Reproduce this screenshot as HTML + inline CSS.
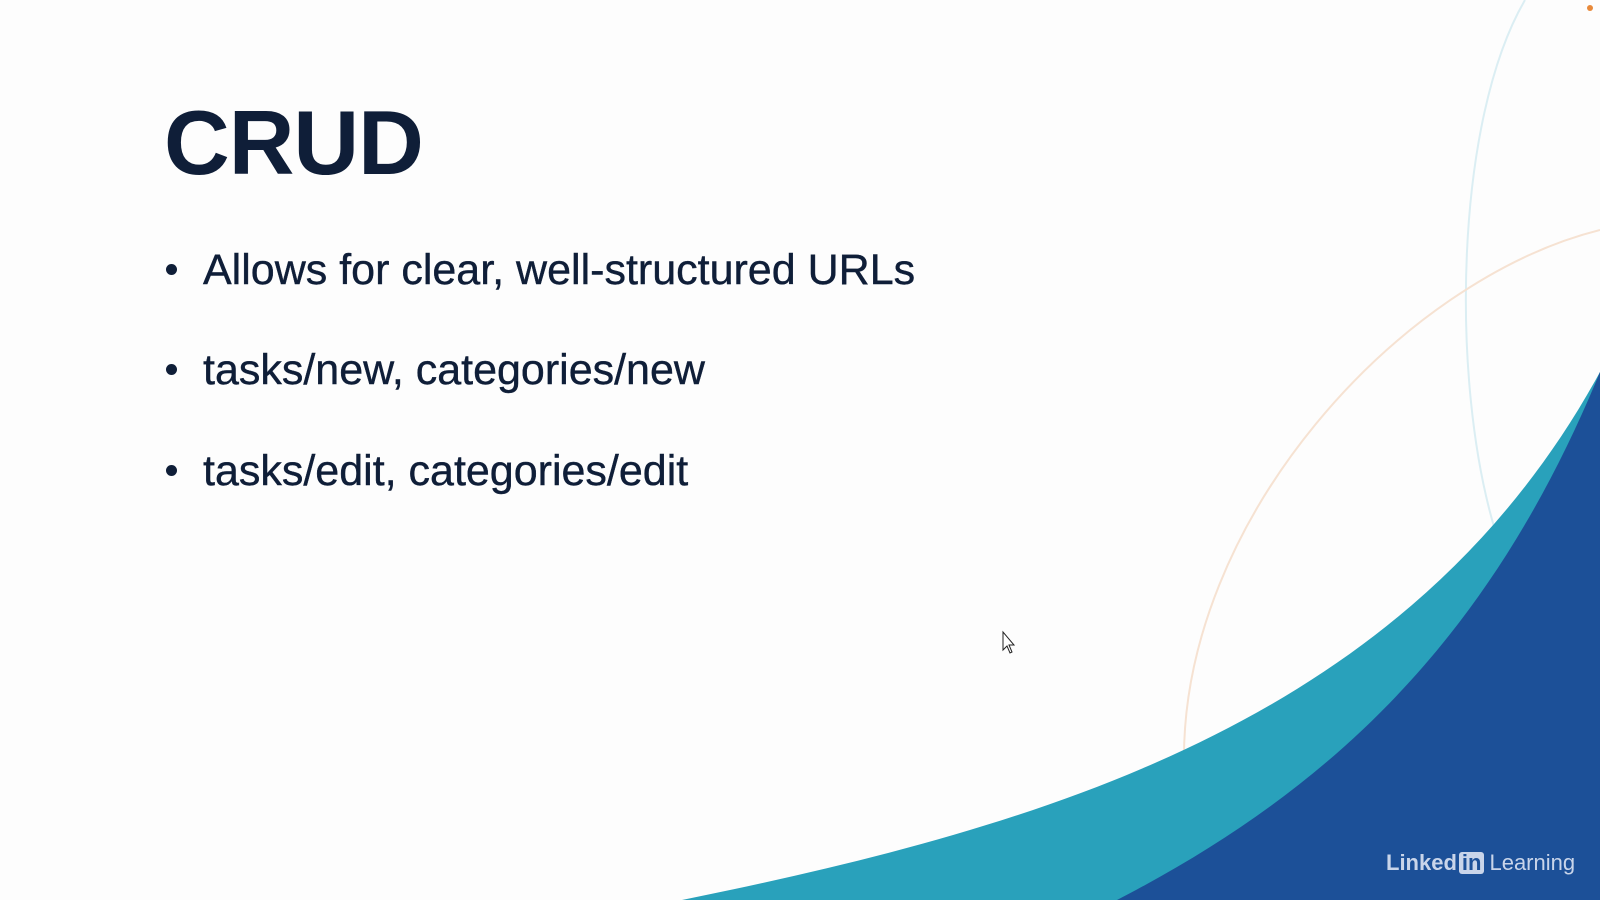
<!DOCTYPE html>
<html><head><meta charset="utf-8"><style>
html,body{margin:0;padding:0}
body{width:1600px;height:900px;overflow:hidden;background:#fdfdfd;position:relative;font-family:"Liberation Sans",sans-serif;color:#0f1e38}
svg{position:absolute;left:0;top:0}
.t{position:absolute;left:164px;top:92px;font-size:91px;font-weight:bold;letter-spacing:-1px}
.b{position:absolute;left:203px;font-size:43px;white-space:nowrap;-webkit-text-stroke:0.4px #0f1e38}
.d{position:absolute;left:166px;width:11px;height:11px;border-radius:50%;background:#0f1e38}
.logo{position:absolute;left:1386px;top:850px;font-size:22px;color:#c9d5ea;white-space:nowrap}
.logo b{font-weight:bold}
.in{display:inline-block;background:#c9d5ea;color:#1c5098;font-weight:bold;padding:0 3px;border-radius:3px;line-height:22px;margin:0 5px 0 2px}
</style></head><body>
<svg width="1600" height="900" viewBox="0 0 1600 900">
<path d="M1525,0 C1455,120 1450,380 1495,530" fill="none" stroke="#dbeef3" stroke-width="2"/>
<path d="M1600,230 C1400,280 1180,520 1184,765" fill="none" stroke="#f6e2d2" stroke-width="2"/>
<path d="M682,900 C1050,825 1410,720 1600,372 L1600,900 Z" fill="#29a1bb"/>
<path d="M1117,900 C1330,790 1490,640 1600,372 L1600,900 Z" fill="#1c5098"/>
<circle cx="1590" cy="8" r="3" fill="#e8893a"/>
<path d="M1003,632 L1003,650 L1007,646 L1010,653 L1012,652 L1009,645 L1014,645 Z" fill="#fff" stroke="#222" stroke-width="1"/>
</svg>
<div class="t">CRUD</div>
<div class="d" style="top:264px"></div><div class="b" style="top:246px">Allows for clear, well-structured URLs</div>
<div class="d" style="top:364px"></div><div class="b" style="top:346px">tasks/new, categories/new</div>
<div class="d" style="top:465px"></div><div class="b" style="top:447px">tasks/edit, categories/edit</div>
<div class="logo"><b>Linked</b><span class="in">in</span>Learning</div>
</body></html>
